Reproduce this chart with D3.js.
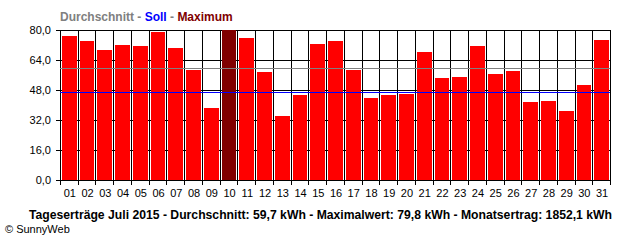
<!DOCTYPE html>
<html lang="de">
<head>
    <meta charset="UTF-8">
    <title>Tageserträge Juli 2015</title>
    <script src="https://d3js.org/d3.v7.min.js"></script>
    <style>
        body { margin: 0; background: #fff; }
        svg { display: block; }
        text { font-family: "Liberation Sans", Arial, sans-serif; }
    </style>
</head>
<body>
    <div id="chart"></div>
    <script>
        // Tageswerte Juli 2015 (kWh)
        const days = ["01","02","03","04","05","06","07","08","09","10","11","12","13","14","15","16",
                      "17","18","19","20","21","22","23","24","25","26","27","28","29","30","31"];
        const yields = [76.8, 74.1, 69.3, 72.0, 71.4, 78.9, 70.4, 58.6, 38.4, 79.8, 75.7, 57.6, 34.1, 45.3, 72.5, 74.1,
                        58.6, 43.7, 45.3, 45.8, 68.2, 54.4, 54.9, 71.4, 56.5, 58.1, 41.6, 42.1, 36.8, 50.6, 74.6];
        const yTicks = [0, 16, 32, 48, 64, 80];
        const average = 59.7;
        const target = 47.0;
        const maxDay = "10";
        const legend = [
            { label: "Durchschnitt", color: "#808080" },
            { label: " - ", color: "#808080" },
            { label: "Soll", color: "#0000ff" },
            { label: " - ", color: "#808080" },
            { label: "Maximum", color: "#800000" }
        ];
        const caption = "Tageserträge Juli 2015 - Durchschnitt: 59,7 kWh - Maximalwert: 79,8 kWh - Monatsertrag: 1852,1 kWh";

        const width = 640, height = 240;
        const margin = { top: 30, right: 30, bottom: 60, left: 60 };

        const svg = d3.select("#chart").append("svg")
            .attr("width", width)
            .attr("height", height);

        const x = d3.scaleBand()
            .domain(days)
            .range([margin.left, width - margin.right]);

        const y = d3.scaleLinear()
            .domain([0, 80])
            .range([height - margin.bottom, margin.top]);

        const fmt = d => d3.format(".1f")(d).replace(".", ",");

        // horizontal grid + ticks left
        svg.append("g")
            .selectAll("line")
            .data(yTicks)
            .join("line")
            .attr("x1", margin.left - 4)
            .attr("x2", width - margin.right)
            .attr("y1", d => Math.round(y(d)) + 0.5)
            .attr("y2", d => Math.round(y(d)) + 0.5)
            .attr("stroke", "#000")
            .attr("stroke-width", 1);

        // vertical grid + ticks below
        const bounds = days.map(d => x(d)).concat([x.range()[1]]);
        svg.append("g")
            .selectAll("line")
            .data(bounds)
            .join("line")
            .attr("x1", d => Math.round(d) + 0.5)
            .attr("x2", d => Math.round(d) + 0.5)
            .attr("y1", y(80))
            .attr("y2", y(0) + 5)
            .attr("stroke", "#000")
            .attr("stroke-width", 1);

        // bars
        svg.append("g")
            .selectAll("rect")
            .data(days.map((d, i) => ({ day: d, value: yields[i] })))
            .join("rect")
            .attr("x", d => Math.round(x(d.day)) + 2)
            .attr("width", d => Math.round(x(d.day) + x.bandwidth()) - Math.round(x(d.day)) - 3)
            .attr("y", d => Math.round(y(d.value)))
            .attr("height", d => Math.round(y(0)) - Math.round(y(d.value)))
            .attr("fill", d => d.day === maxDay ? "#800000" : "#ff0000");

        // average and target lines
        svg.append("line")
            .attr("x1", margin.left).attr("x2", width - margin.right)
            .attr("y1", Math.round(y(average)) + 0.5).attr("y2", Math.round(y(average)) + 0.5)
            .attr("stroke", "#808080").attr("stroke-width", 1);
        svg.append("line")
            .attr("x1", margin.left).attr("x2", width - margin.right)
            .attr("y1", Math.round(y(target)) + 0.5).attr("y2", Math.round(y(target)) + 0.5)
            .attr("stroke", "#0000ff").attr("stroke-width", 1);

        // y labels
        svg.append("g")
            .selectAll("text")
            .data(yTicks)
            .join("text")
            .attr("x", margin.left - 9)
            .attr("y", d => y(d) + 4)
            .attr("text-anchor", "end")
            .attr("font-size", 11)
            .text(fmt);

        // x labels
        svg.append("g")
            .selectAll("text")
            .data(days)
            .join("text")
            .attr("x", d => x(d) + x.bandwidth() / 2 + 1)
            .attr("y", 197)
            .attr("text-anchor", "middle")
            .attr("font-size", 11)
            .text(d => d);

        // legend title
        const t = svg.append("text")
            .attr("x", margin.left)
            .attr("y", 21)
            .attr("font-size", 12)
            .attr("font-weight", "bold");
        t.selectAll("tspan")
            .data(legend)
            .join("tspan")
            .attr("fill", d => d.color)
            .attr("xml:space", "preserve")
            .text(d => d.label);

        // caption
        svg.append("text")
            .attr("x", 29)
            .attr("y", 219)
            .attr("font-size", 12)
            .attr("font-weight", "bold")
            .attr("textLength", 583)
            .attr("lengthAdjust", "spacingAndGlyphs")
            .text(caption);

        svg.append("text")
            .attr("x", 5)
            .attr("y", 233)
            .attr("font-size", 11)
            .text("© SunnyWeb");
    </script>
</body>
</html>
